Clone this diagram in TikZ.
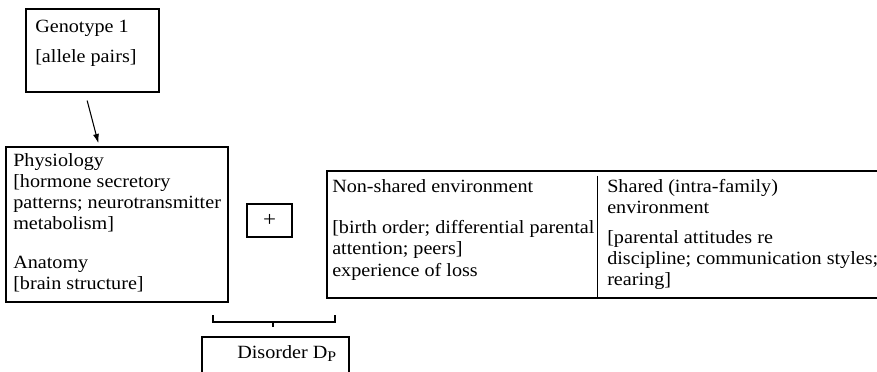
\documentclass[tikz,border=0pt]{standalone}
\usepackage{fontspec}
\setmainfont{Liberation Serif}[FakeStretch=1.08]
\usetikzlibrary{fit,calc,arrows.meta}
\begin{document}
\begin{tikzpicture}[x=0.75pt,y=-0.75pt,
  boxline/.style={line width=1.3pt},
  frame/.style={draw, boxline, inner sep=0pt},
  area/.style={inner sep=0pt},
  txt/.style={anchor=north west, inner sep=0pt, align=left,
    font=\fontsize{14}{15.75}\selectfont},
  rule/.style={line width=0.8pt},
  link/.style={line width=0.8pt, -{Latex[length=7pt,width=4.5pt]},
    shorten <=6pt, shorten >=2.2pt}]
\useasboundingbox (0,0) rectangle (877,371);

% genotype box
\node[frame, fit={(26,9) (159,92)}] (geno) {};
\node[txt] (genoA) at (35,20.3) {Genotype 1};
\node[txt] (genoB) at (35,49.3) {{[}allele pairs{]}};

% physiology / anatomy box
\node[frame, fit={(6,147) (228,302)}] (phys) {};
\node[txt] (physA) at (13,153.3) {Physiology\\{[}hormone secretory\\patterns; neurotransmitter\\metabolism{]}};
\node[txt] (physB) at (13,256.3) {Anatomy\\{[}brain structure{]}};

% genotype acts on physiology
\draw[link] ($(geno.south west)+(60,0)$) -- ($(phys.north west)+(94,0)$);

% plus sign
\node[frame, fit={(247,204) (292,237)}] (plus) {};
\node[font=\fontsize{16}{16}\selectfont, inner sep=0pt] (plussign) at (plus.center) {+};

% environment box, open on the right
\node[area, fit={(327,171) (885,298)}] (env) {};
\draw[boxline] (env.north east) -- (env.north west) -- (env.south west) -- (env.south east);
\draw[rule] ($(env.north west)+(271,5)$) -- ($(env.south west)+(271,0)$);
\node[txt] (nsA) at (332,179.3) {Non-shared environment};
\node[txt] (nsB) at (332,220.3) {{[}birth order; differential parental\\attention; peers{]}};
\node[txt] (nsC) at (332,263.3) {experience of loss};
\node[txt] (shA) at (607,179.3) {Shared (intra-family)\\environment};
\node[txt] (shB) at (607,230.3) {{[}parental attitudes re\\discipline; communication styles;\\rearing{]}};

% bracket joining the two sides
\draw[boxline] (213,315) -- (213,322) -- (335,322) -- (335,315);
\coordinate (stem) at (273,327);
\draw[boxline] (273,322) -- (stem);

% outcome box
\node[frame, fit={(202,337) (349,390)}] (dis) {};
\node[txt, anchor=base west] (disT) at (237,358) {Disorder D\raisebox{-0.4ex}{\fontsize{11}{11}\selectfont P}};
\end{tikzpicture}
\end{document}
